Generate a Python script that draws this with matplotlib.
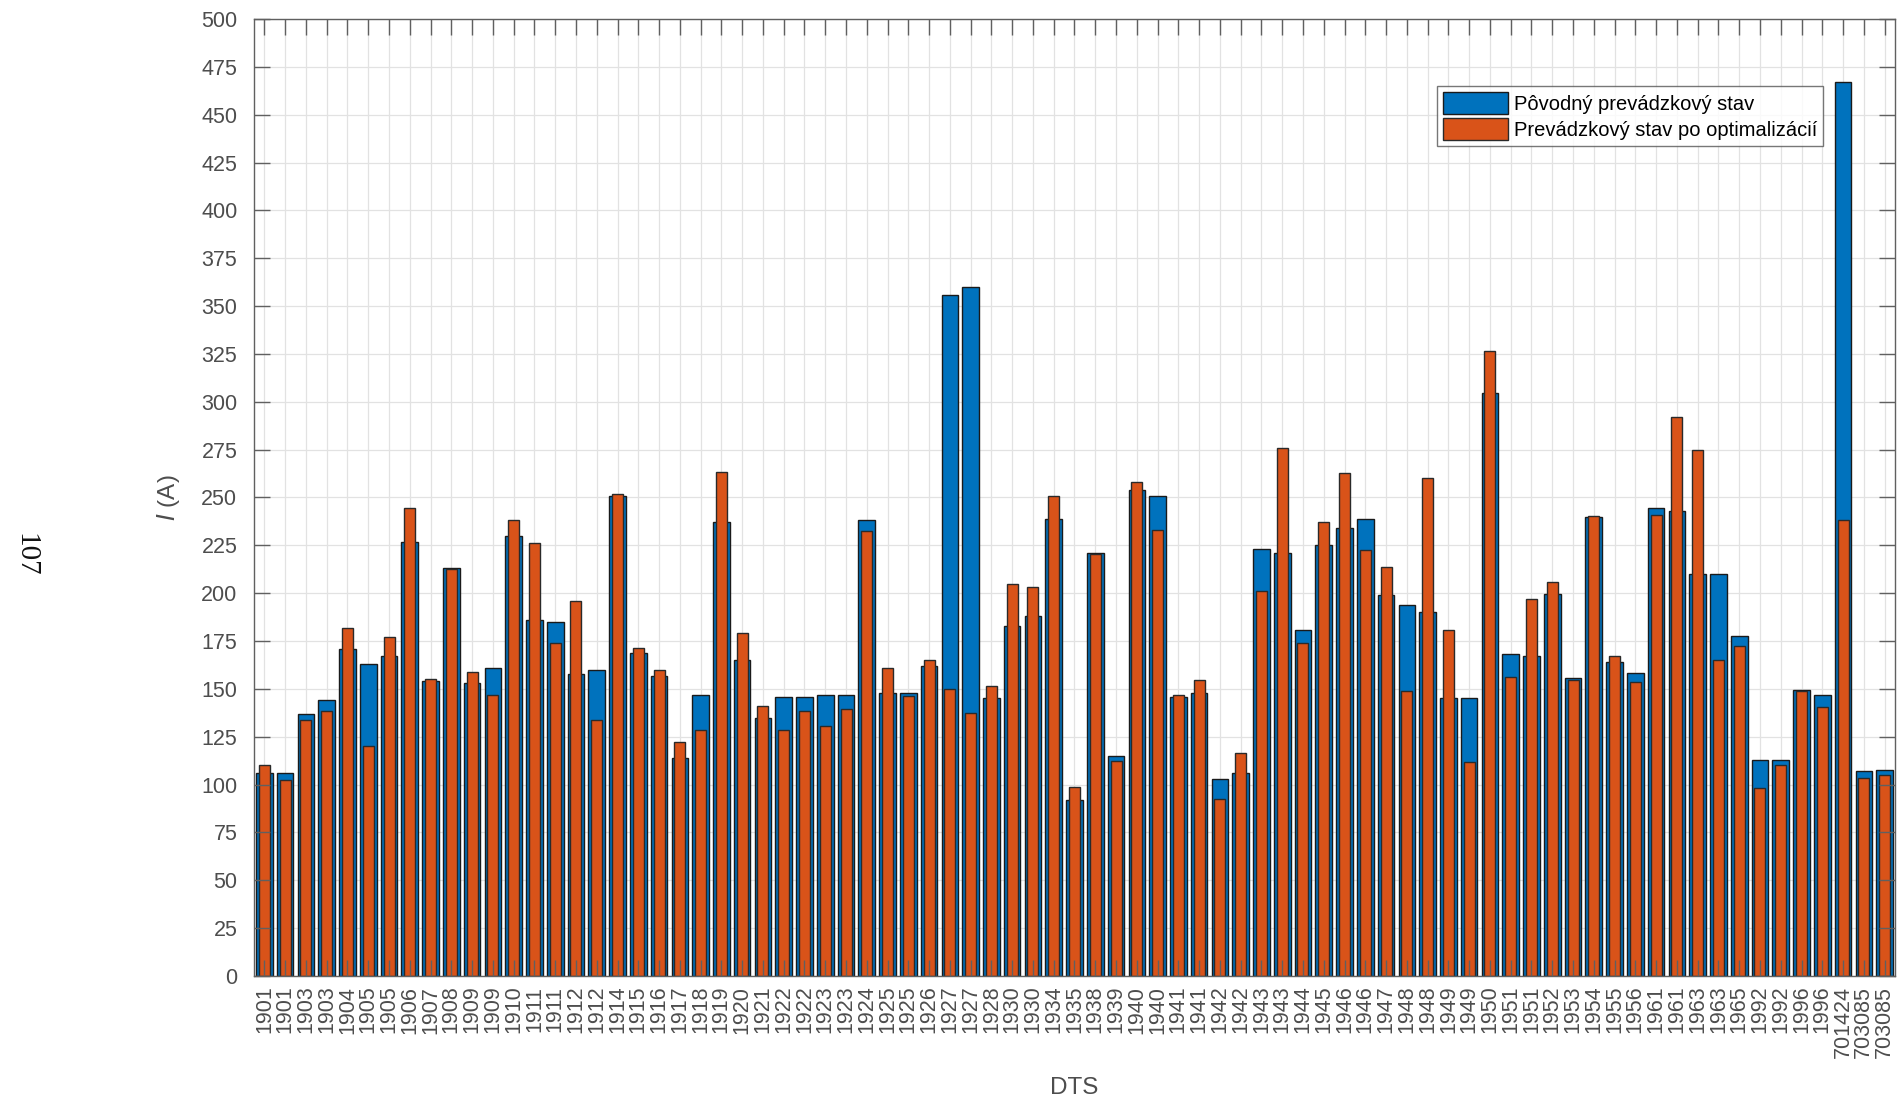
import numpy as np
import matplotlib
matplotlib.use("Agg")
import matplotlib.pyplot as plt

labels = ['1901','1901','1903','1903','1904','1905','1905','1906','1907','1908',
          '1909','1909','1910','1911','1911','1912','1912','1914','1915','1916',
          '1917','1918','1919','1920','1921','1922','1922','1923','1923','1924',
          '1925','1925','1926','1927','1927','1928','1930','1930','1934','1935',
          '1938','1939','1940','1940','1941','1941','1942','1942','1943','1943',
          '1944','1945','1946','1946','1947','1948','1948','1949','1949','1950',
          '1951','1951','1952','1953','1954','1955','1956','1961','1961','1963',
          '1963','1965','1992','1992','1996','1996','701424','703085','703085']

original = [106, 106, 137, 144, 171, 163, 167, 227, 154, 213,
            153, 161, 230, 186, 185, 158, 160, 251, 169, 157,
            114, 147, 237, 165, 135, 146, 146, 147, 147, 238,
            148, 148, 162, 356, 360, 145, 183, 188, 239, 92,
            221, 115, 254, 251, 146, 148, 103, 106, 223, 221,
            181, 225, 234, 239, 199, 194, 190, 145, 145, 304.5,
            168, 167, 199.5, 155.5, 240, 164, 158.5, 244.5, 243, 210,
            210, 177.5, 113, 113, 149.5, 147, 467, 107, 107.5]

optimized = [110, 102.5, 134, 138.5, 182, 120, 177, 244.5, 155, 212.5,
             159, 147, 238, 226, 174, 196, 133.5, 252, 171.5, 160,
             122, 128.5, 263.5, 179, 141, 128.5, 138.5, 130.5, 139.5, 232.5,
             161, 146.5, 165, 150, 137.5, 151.5, 205, 203, 251, 98.5,
             220.5, 112.5, 258, 233, 147, 154.5, 92.5, 116.5, 201, 276,
             174, 237, 263, 222.5, 213.5, 149, 260, 181, 112, 326.5,
             156, 197, 206, 154.5, 240.5, 167, 153.5, 241, 292, 275,
             165, 172.5, 98, 110, 149, 140.5, 238.5, 103.5, 105]

series_names = ['Pôvodný prevádzkový stav', 'Prevádzkový stav po optimalizácií']
yticks = list(range(0, 501, 25))

plt.rcParams['font.family'] = ['Liberation Sans', 'DejaVu Sans']

W, H = 1899, 1101
fig = plt.figure(figsize=(W / 100, H / 100), dpi=100)
pos = [254 / W, 1 - 976 / H, (1895 - 254) / W, (976 - 19) / H]
ax = fig.add_axes(pos)

x = np.arange(1, len(labels) + 1)
ax.bar(x, original, width=0.8, color='#0072BD', edgecolor='#1a1a1a', linewidth=1.0,
       label=series_names[0], zorder=2)
ax.bar(x, optimized, width=0.53, color='#D95319', edgecolor='#2a2a2a', linewidth=1.0,
       label=series_names[1], zorder=3)

tick_color = '#4d4d4d'
ax.set_xlim(0.5, len(labels) + 0.5)
ax.set_ylim(0, 500)
ax.set_xticks(x)
ax.set_xticklabels(labels, rotation=90, fontsize=15.5, color=tick_color)
ax.set_yticks(yticks)
ax.set_yticklabels([str(v) for v in yticks], fontsize=15.5, color=tick_color)
ax.tick_params(axis='y', length=0, pad=12)
ax.tick_params(axis='x', length=0, pad=7)
ax.grid(True, color='#e2e2e2', linewidth=0.9)
ax.set_axisbelow(True)
for s in ax.spines.values():
    s.set_visible(False)

ax.set_xlabel('DTS', fontsize=17.5, color=tick_color, labelpad=14)
ax.set_ylabel(r'$\mathit{I}$ (A)', fontsize=17.5, color=tick_color, labelpad=14)

leg = ax.legend(loc='upper right', bbox_to_anchor=((1823 - 254) / 1641, (976 - 86) / 957),
                fontsize=14.5, frameon=True, fancybox=False, edgecolor='#555555',
                handlelength=3.2, handleheight=1.3, borderpad=0.3, labelspacing=0.2,
                handletextpad=0.3, borderaxespad=0)
leg.get_frame().set_linewidth(1.0)
leg.set_zorder(5)

# overlay axes for ticks drawn on top of bars (MATLAB style)
ax2 = fig.add_axes(pos, sharex=ax, sharey=ax, zorder=10)
ax2.patch.set_visible(False)
ax2.tick_params(axis='both', which='both', direction='in', length=11.5, width=1.0,
                color='#606060', top=True, right=True, labelbottom=False, labelleft=False)
for s in ax2.spines.values():
    s.set_color('#606060')
    s.set_linewidth(1.0)

fig.text(25 / W, 1 - 555 / H, '107', rotation=-90, ha='center', va='center',
         fontsize=21, family=['Liberation Serif', 'DejaVu Serif'], color='#111111')

fig.savefig('out.png', dpi=100)
